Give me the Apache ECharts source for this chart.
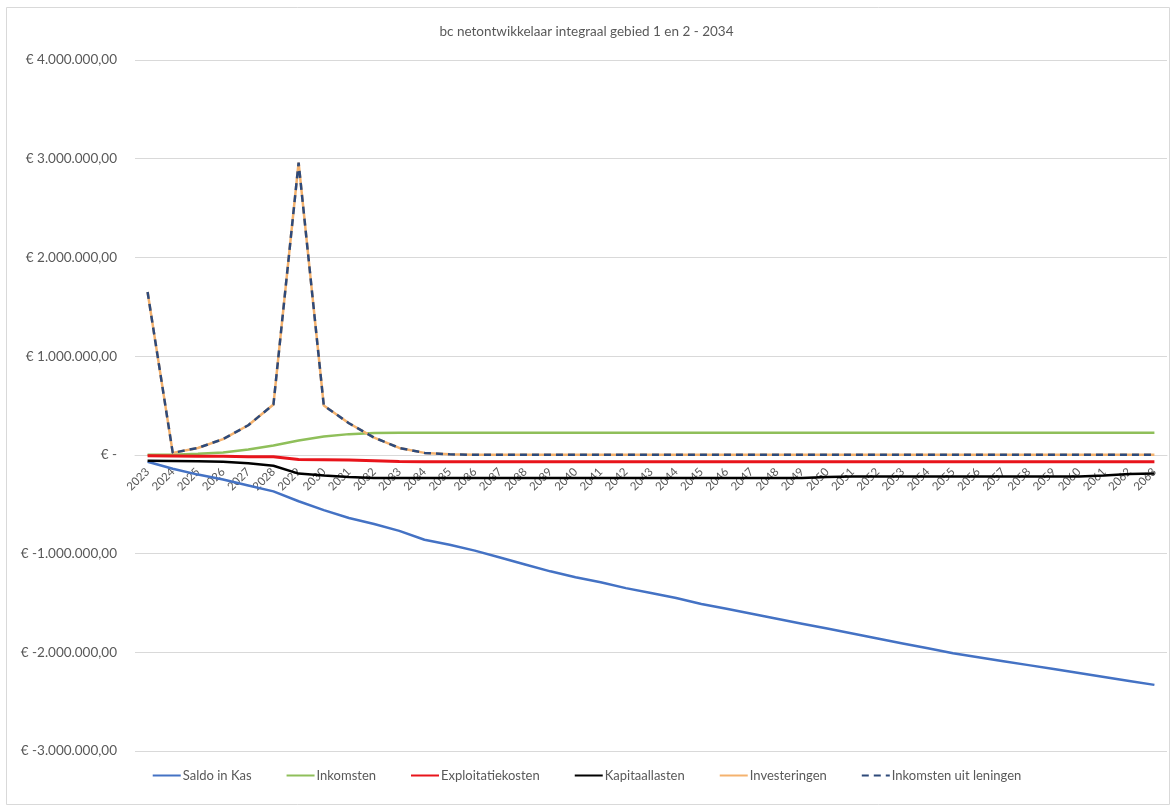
<!DOCTYPE html>
<html>
<head>
<meta charset="utf-8">
<script src="https://cdn.jsdelivr.net/npm/echarts@6/dist/echarts.min.js"></script>
<style>
  html, body { margin: 0; padding: 0; background: #ffffff; }
  #chart { width: 1173px; height: 807px; }
</style>
</head>
<body>
<div id="chart"></div>
<script>
// Years on the category axis
const years = [];
for (let y = 2023; y <= 2063; y++) years.push(String(y));

// Yearly amounts in euro
const saldoInKas = [
  -70000, -140000, -200000, -250000, -310000, -370000, -470000, -560000, -640000, -700000,
  -770000, -860000, -910000, -970000, -1040000, -1110000, -1180000, -1240000, -1290000, -1350000,
  -1400000, -1450000, -1510000, -1560000, -1610000, -1660000, -1710000, -1760000, -1810000, -1860000,
  -1910000, -1960000, -2010000, -2050000, -2090000, -2130000, -2170000, -2210000, -2250000, -2290000,
  -2330000
];
const inkomsten = [
  0, 0, 10000, 25000, 55000, 95000, 145000, 185000, 210000, 222000,
  225000, 225000, 225000, 225000, 225000, 225000, 225000, 225000, 225000, 225000,
  225000, 225000, 225000, 225000, 225000, 225000, 225000, 225000, 225000, 225000,
  225000, 225000, 225000, 225000, 225000, 225000, 225000, 225000, 225000, 225000,
  225000
];
const exploitatiekosten = [
  -10000, -12000, -15000, -15000, -18000, -20000, -48000, -50000, -52000, -60000,
  -68000, -70000, -70000, -70000, -70000, -70000, -70000, -70000, -70000, -70000,
  -70000, -70000, -70000, -70000, -70000, -70000, -70000, -70000, -70000, -70000,
  -70000, -70000, -70000, -70000, -70000, -70000, -70000, -70000, -70000, -70000,
  -70000
];
const kapitaallasten = [
  -60000, -62000, -65000, -70000, -85000, -110000, -190000, -210000, -225000, -235000,
  -235000, -235000, -235000, -235000, -235000, -235000, -235000, -235000, -235000, -235000,
  -235000, -235000, -235000, -235000, -235000, -235000, -235000, -225000, -220000, -220000,
  -220000, -220000, -220000, -220000, -220000, -220000, -220000, -220000, -210000, -195000,
  -190000
];
const investeringen = [
  1650000, 20000, 70000, 160000, 300000, 510000, 2960000, 500000, 320000, 175000,
  70000, 20000, 5000, 0, 0, 0, 0, 0, 0, 0,
  0, 0, 0, 0, 0, 0, 0, 0, 0, 0,
  0, 0, 0, 0, 0, 0, 0, 0, 0, 0,
  0
];
const inkomstenUitLeningen = investeringen.slice();

// Value axis range
const Y_MIN = -3000000;
const Y_MAX = 4000000;
const Y_STEP = 1000000;

// Tick labels in Dutch currency notation
function euro(v) {
  if (v === 0) return '€ -';
  const neg = v < 0;
  const s = Math.abs(v).toString().replace(/\B(?=(\d{3})+(?!\d))/g, '.');
  return '€ ' + (neg ? '-' : '') + s + ',00';
}

const FONT = 'Lato, "Open Sans", sans-serif';

function lineSeries(name, data, color, extra) {
  return Object.assign({
    name: name,
    type: 'line',
    data: data,
    symbol: 'none',
    smooth: false,
    lineStyle: { color: color, width: 2.5 },
    itemStyle: { color: color },
    emphasis: { disabled: true }
  }, extra || {});
}

const chart = echarts.init(document.getElementById('chart'), null, { renderer: 'canvas' });
chart.setOption({
  backgroundColor: '#ffffff',
  animation: false,
  title: {
    text: 'bc netontwikkelaar integraal gebied 1 en 2 - 2034',
    left: 'center',
    top: 20,
    textStyle: { fontFamily: FONT, fontSize: 13.5, fontWeight: 'normal', color: '#595959' }
  },
  graphic: [{
    type: 'rect',
    shape: { x: 6.5, y: 7.5, width: 1163, height: 797 },
    style: { fill: 'none', stroke: '#d9d9d9', lineWidth: 1 },
    silent: true
  }],
  grid: { left: 135, right: 6, top: 60, bottom: 56, containLabel: false },
  legend: {
    bottom: 20,
    left: 'center',
    itemWidth: 28,
    itemHeight: 10,
    itemGap: 34,
    itemStyle: { opacity: 0 },
    textStyle: { fontFamily: FONT, fontSize: 13, color: '#595959', padding: [0, 0, 0, -3] },
    data: ['Saldo in Kas', 'Inkomsten', 'Exploitatiekosten', 'Kapitaallasten', 'Investeringen', 'Inkomsten uit leningen']
  },
  xAxis: {
    type: 'category',
    data: years,
    boundaryGap: true,
    axisLine: { onZero: false, lineStyle: { color: '#d9d9d9', width: 1 } },
    axisTick: { show: false },
    axisLabel: {
      rotate: 45,
      interval: 0,
      margin: 15,
      fontFamily: FONT,
      fontSize: 11.5,
      color: '#595959'
    },
    splitLine: { show: false }
  },
  yAxis: {
    type: 'value',
    min: Y_MIN,
    max: Y_MAX,
    interval: Y_STEP,
    axisLine: { show: false },
    axisTick: { show: false },
    axisLabel: {
      formatter: euro,
      margin: 18,
      fontFamily: FONT,
      fontSize: 13.5,
      color: '#595959'
    },
    splitLine: { lineStyle: { color: '#d9d9d9', width: 1 } }
  },
  series: [
    lineSeries('Saldo in Kas', saldoInKas, '#4472c4'),
    lineSeries('Inkomsten', inkomsten, '#8fbf5a'),
    lineSeries('Exploitatiekosten', exploitatiekosten, '#e8141b', {
      lineStyle: { color: '#e8141b', width: 3 }
    }),
    lineSeries('Kapitaallasten', kapitaallasten, '#000000'),
    lineSeries('Investeringen', investeringen, '#f4b26e'),
    lineSeries('Inkomsten uit leningen', inkomstenUitLeningen, '#2e4a7a', {
      lineStyle: { color: '#2e4a7a', width: 2.5, type: [7, 5] }
    })
  ]
});

// Move the category axis (line and year labels) up to the zero line
const zeroY = chart.convertToPixel({ yAxisIndex: 0 }, 0);
const bottomY = chart.convertToPixel({ yAxisIndex: 0 }, Y_MIN);
chart.setOption({ xAxis: { offset: zeroY - bottomY } });
</script>
</body>
</html>
